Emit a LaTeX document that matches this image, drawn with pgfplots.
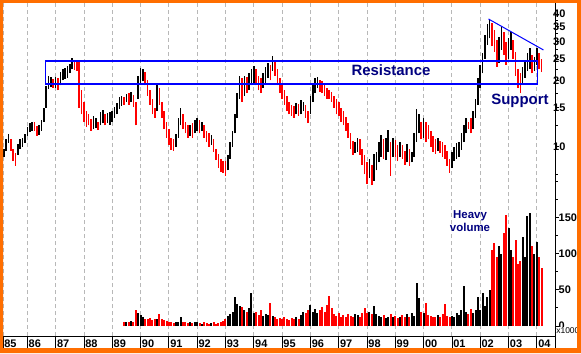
\documentclass[border=0pt]{standalone}
\usepackage{fontspec}
\setmainfont{Liberation Sans}
\usepackage{pgfplots}
\usepackage{pgfplotstable}
\pgfplotsset{compat=1.18}
\definecolor{frameorange}{HTML}{FF6E00}
\definecolor{navytext}{HTML}{000080}
\definecolor{gridgray}{HTML}{B8B8B8}
\definecolor{linkblue}{HTML}{0000FF}
\pgfplotstableread{
m lo hi v c
2 9.0 9.8 nan 1
3 9.6 10.8 nan 1
4 10.4 11.4 nan 1
5 9.6 10.8 nan 0
6 8.6 9.8 nan 0
7 8.2 9.4 nan 0
8 9.2 10.3 nan 1
9 9.8 10.8 nan 1
10 10.0 11.0 nan 1
11 10.4 11.4 nan 1
12 11.2 12.3 nan 1
13 11.6 12.8 nan 1
14 11.8 13.0 nan 1
15 11.8 12.9 nan 0
16 11.2 12.4 nan 0
17 11.3 12.6 nan 1
18 11.8 13.2 nan 1
19 13.0 15.0 nan 1
20 15.0 18.8 nan 1
21 18.3 21.0 nan 1
22 18.6 20.8 nan 1
23 18.5 20.2 nan 0
24 18.5 20.8 nan 1
25 18.0 20.5 nan 0
26 19.0 21.8 nan 1
27 20.0 22.5 nan 1
28 20.3 22.8 nan 1
29 20.5 23.3 nan 1
30 21.5 23.8 nan 1
31 22.5 25.2 nan 1
32 22.3 24.8 nan 0
33 22.0 24.5 nan 0
34 15.0 24.5 nan 0
35 14.0 18.0 nan 0
36 13.0 16.0 nan 0
37 12.3 14.5 nan 0
38 12.5 14.0 nan 0
39 11.8 13.4 nan 0
40 12.0 13.8 nan 1
41 12.2 13.5 nan 1
42 11.9 13.0 nan 0
43 12.5 14.3 nan 1
44 12.8 14.6 nan 1
45 12.5 14.0 nan 0
46 12.8 14.2 nan 1
47 12.6 14.4 nan 1
48 13.0 14.5 nan 1
49 13.5 15.2 nan 1
50 14.0 15.8 nan 1
51 14.8 16.8 nan 1
52 15.3 17.0 nan 1
53 15.5 16.8 5 0
54 16.0 17.3 6 1
55 15.5 17.6 5 0
56 16.0 17.8 7 1
57 15.2 17.2 6 0
58 12.5 16.0 22 0
59 16.5 21.0 18 1
60 19.5 22.8 15 1
61 19.8 22.6 12 1
62 19.0 21.8 10 0
63 17.0 20.0 9 0
64 15.5 18.0 11 0
65 14.0 16.5 8 0
66 13.5 15.0 10 0
67 14.5 19.2 9 1
68 15.5 18.5 16 0
69 13.5 16.0 9 0
70 12.0 14.5 8 0
71 11.0 13.0 7 0
72 10.2 12.0 6 0
73 9.7 11.0 5 0
74 9.6 10.8 4 0
75 10.0 11.4 6 1
76 11.0 13.5 5 1
77 12.5 15.0 12 1
78 12.0 14.0 6 0
79 11.5 13.0 5 0
80 11.0 12.5 4 0
81 11.2 12.6 5 1
82 11.0 12.8 4 0
83 11.5 13.2 6 1
84 11.8 13.5 5 1
85 11.5 13.2 4 0
86 11.8 13.0 3 1
87 11.0 12.6 5 0
88 10.5 11.8 4 0
89 10.0 11.5 3 0
90 10.2 11.3 4 1
91 9.5 10.8 5 0
92 8.7 9.8 3 0
93 8.0 9.3 4 0
94 7.7 8.8 6 0
95 7.6 8.6 7 0
96 7.4 8.6 10 0
97 7.8 9.2 14 1
98 8.8 10.5 16 1
99 10.0 11.8 19 1
100 11.5 14.0 40 1
101 13.5 17.5 30 1
102 16.5 21.0 28 1
103 16.0 20.5 26 0
104 17.0 21.0 22 1
105 17.5 20.8 20 0
106 18.0 21.5 25 1
107 19.0 22.5 45 1
108 19.5 23.3 18 1
109 19.0 22.5 20 0
110 18.0 21.0 15 0
111 17.5 20.5 22 0
112 18.5 21.5 14 1
113 19.5 23.0 16 1
114 20.5 24.0 15 1
115 20.0 23.5 32 0
116 22.0 25.7 14 1
117 21.0 24.5 12 0
118 19.0 22.5 10 0
119 17.5 20.5 11 0
120 16.5 19.0 9 0
121 15.5 18.0 12 0
122 14.5 17.0 10 0
123 14.0 16.0 8 0
124 13.8 15.5 11 0
125 13.5 15.3 9 0
126 14.0 15.8 12 1
127 13.8 15.6 10 0
128 14.0 16.3 15 1
129 14.5 16.0 20 1
130 13.5 15.5 18 0
131 12.8 14.5 22 0
132 14.0 17.0 29 1
133 16.0 19.5 20 1
134 17.5 20.5 24 1
135 18.5 20.8 18 1
136 17.8 20.0 22 0
137 17.5 19.8 26 0
138 17.0 19.0 20 0
139 16.5 18.5 29 0
140 16.5 18.0 42 0
141 16.0 17.8 25 0
142 15.0 17.0 16 0
143 14.0 16.5 14 0
144 13.8 16.0 18 0
145 13.0 15.0 12 0
146 12.5 14.5 15 0
147 11.8 13.6 13 0
148 11.0 12.8 17 0
149 9.8 11.5 14 0
150 9.2 10.6 12 0
151 9.4 10.5 16 1
152 9.5 11.0 15 1
153 9.2 10.8 13 0
154 8.3 9.8 18 0
155 7.5 9.2 25 0
156 6.8 8.5 18 0
157 7.2 8.8 20 1
158 6.7 8.3 17 0
159 7.0 9.3 27 1
160 7.8 9.5 16 1
161 8.5 10.5 14 1
162 9.0 11.3 12 1
163 8.8 10.8 15 0
164 8.7 11.0 11 1
165 9.5 11.9 13 1
166 7.4 10.5 16 0
167 9.0 11.0 12 1
168 9.0 10.7 14 0
169 8.6 10.2 11 0
170 9.0 10.5 13 1
171 8.8 10.2 15 0
172 8.3 9.6 12 0
173 8.5 10.3 16 1
174 8.2 9.8 13 0
175 8.5 9.5 18 1
176 9.0 11.5 14 1
177 10.5 14.8 60 1
178 11.5 14.0 38 1
179 10.8 13.0 20 0
180 11.0 13.5 18 1
181 10.5 13.0 32 0
182 10.8 12.5 15 0
183 10.0 11.8 14 0
184 9.5 11.2 12 0
185 9.3 10.8 13 0
186 9.6 11.0 15 1
187 9.4 10.6 12 0
188 9.0 10.5 16 0
189 8.8 10.2 31 0
190 8.2 9.6 14 0
191 7.6 8.8 12 0
192 8.0 9.5 14 1
193 8.6 10.0 12 1
194 8.8 10.4 18 1
195 9.0 10.5 15 1
196 9.7 11.5 22 1
197 10.5 12.5 55 1
198 11.5 13.5 20 1
199 12.0 13.0 16 0
200 11.5 13.5 24 0
201 12.0 14.5 18 1
202 13.5 16.5 22 1
203 15.5 20.5 40 1
204 18.5 23.5 22 1
205 21.5 26.5 45 1
206 25.0 32.0 28 1
207 29.0 36.0 40 1
208 31.0 38.0 50 1
209 28.5 36.5 105 0
210 27.0 34.0 114 0
211 23.0 30.5 95 0
212 24.0 31.5 110 1
213 27.5 35.0 100 1
214 26.0 33.0 128 0
215 23.5 30.0 153 0
216 25.0 31.0 135 1
217 27.5 33.0 105 1
218 25.0 30.5 95 0
219 21.0 27.0 118 0
220 18.5 22.5 85 0
221 17.5 21.5 90 0
222 19.5 23.0 123 1
223 20.5 24.5 95 1
224 22.0 26.5 152 1
225 22.5 28.0 156 1
226 21.5 26.0 110 0
227 22.0 25.5 100 1
228 23.5 28.0 116 1
229 22.5 26.5 95 0
230 21.8 25.0 80 0
}\data

\begin{document}
\begin{tikzpicture}[x=1bp,y=1bp]
\useasboundingbox (0,0) rectangle (581,353);
\fill[frameorange] (0,0) rectangle (581,353);
\fill[white] (3,5) rectangle (577,350);
\pgfplotsset{chartbox/.style={scale only axis, width=552bp, height=333bp,
  at={(3bp,17bp)}, anchor=south west, xmin=1.68, xmax=235.7,
  tick label style={font=\fontsize{11}{12}\selectfont\bfseries},
  tick style={black, line width=0.8bp}}}

% base axis: year band, grid, axis lines
\begin{axis}[chartbox, ymin=0, ymax=1,
  axis x line*=bottom, axis y line*=right,
  axis line style={-, black, line width=0.9bp},
  ytick=\empty,
  xtick={1.68,12,24,36,48,60,72,84,96,108,120,132,144,156,168,180,192,204,216,228},
  xticklabels={85,86,87,88,89,90,91,92,93,94,95,96,97,98,99,00,01,02,03,04},
  xmajorgrids, grid style={gridgray, dash pattern=on 4bp off 3bp, line width=0.9bp},
  tick align=outside, major tick length=12bp,
  xticklabel style={anchor=north west, inner sep=0pt, xshift=1.2bp},
  xticklabel shift=-8bp,
  extra x ticks={235.7}, extra x tick labels={}, extra x tick style={grid=none}]
\end{axis}

% volume axis
\begin{axis}[chartbox, ymin=-13.8, ymax=445.7,
  axis x line=none, xtick=\empty, axis y line*=right, axis line style={-},
  ytick={0,50,100,150}, yticklabels={0,50,100,150},
  minor ytick={25,75,125,175,200},
  tick align=outside, major tick length=4bp, minor tick length=2.5bp,
  yticklabel style={anchor=west, inner sep=0pt}, yticklabel shift=-0.5bp]
\addplot[ycomb, black, line width=2bp, restrict expr to domain={\thisrow{c}}{0.5:1.5}] table[x=m, y=v] {\data};
\addplot[ycomb, red, line width=2bp, restrict expr to domain={\thisrow{c}}{-0.5:0.5}] table[x=m, y=v] {\data};
\end{axis}

% price axis
\begin{axis}[chartbox, ymode=log, ymin=1.384, ymax=44.87,
  axis x line=none, xtick=\empty, axis y line*=right, axis line style={-},
  ytick={10,15,20,25,30,35,40}, yticklabels={10,15,20,25,30,35,40},
  minor ytick={7.5,12.5,17.5,22.5,27.5,32.5,37.5},
  tick align=outside, major tick length=4bp, minor tick length=2.5bp,
  yticklabel style={anchor=west, inner sep=0pt}, yticklabel shift=-6bp]
\addplot[draw=none, no markers, restrict expr to domain={\thisrow{c}}{0.5:1.5},
  error bars/.cd, y dir=plus, y explicit, error mark=none,
  error bar style={draw=black, solid, line width=1.6bp}]
  table[x=m, y=lo, y error expr=\thisrow{hi}-\thisrow{lo}] {\data};
\addplot[draw=none, no markers, restrict expr to domain={\thisrow{c}}{-0.5:0.5},
  error bars/.cd, y dir=plus, y explicit, error mark=none,
  error bar style={draw=red, solid, line width=1.6bp}]
  table[x=m, y=lo, y error expr=\thisrow{hi}-\thisrow{lo}] {\data};
\draw[linkblue, line width=1.3bp] (axis cs:19.6,24.5) rectangle (axis cs:228.4,19.25);
\draw[linkblue, line width=1bp] (axis cs:207.5,37.97) -- (axis cs:230.8,27.47);
\end{axis}

\node[anchor=base, text=navytext, font=\fontsize{15}{16}\selectfont\bfseries, inner sep=0pt] at (391,278) {Resistance};
\node[anchor=base, text=navytext, font=\fontsize{15}{16}\selectfont\bfseries, inner sep=0pt] at (520,249) {Support};
\node[anchor=base, text=navytext, font=\fontsize{11.5}{12}\selectfont\bfseries, inner sep=0pt] at (470,135) {Heavy};
\node[anchor=base, text=navytext, font=\fontsize{11.5}{12}\selectfont\bfseries, inner sep=0pt] at (470,122) {volume};
\node[anchor=west, fill=white, inner sep=0.3bp, font=\fontsize{8.5}{9}\selectfont] at (555.8,22.5) {x1000};

\fill[frameorange, even odd rule] (0,0) rectangle (581,353) (3,5) rectangle (577,350);
\end{tikzpicture}
\end{document}
